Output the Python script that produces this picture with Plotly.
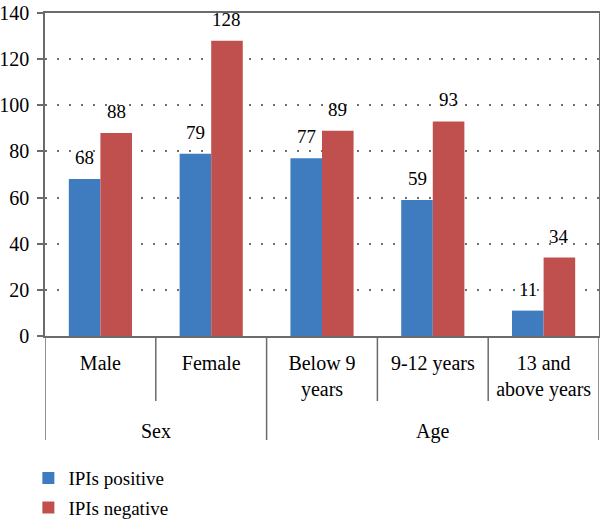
import plotly.graph_objects as go

categories = ["Male", "Female", "Below 9<br>years", "9-12 years", "13 and<br>above years"]
groups = ["Sex", "Age"]
group_sizes = [2, 3]
ipis_positive = [68, 79, 77, 59, 11]
ipis_negative = [88, 128, 89, 93, 34]
series_names = ["IPIs positive", "IPIs negative"]
y_ticks = [0, 20, 40, 60, 80, 100, 120, 140]

BLUE = "#3E7CBF"
RED = "#C0504D"
FONT = "Liberation Serif, serif"
AXIS = "#6b6b6b"
BARGAP = 0.43

xs = list(range(len(categories)))
fig = go.Figure()
for name, vals, col in [(series_names[0], ipis_positive, BLUE), (series_names[1], ipis_negative, RED)]:
    fig.add_trace(go.Bar(x=xs, y=vals, name=name, marker=dict(color=col, line=dict(width=0)),
                         legendgroup=name))

# data labels
bw = (1 - BARGAP) / 2
for k, vals in enumerate([ipis_positive, ipis_negative]):
    off = (k - 0.5) * bw
    for i, v in enumerate(vals):
        fig.add_annotation(x=i + off, y=v, text=str(v), showarrow=False, xref="x", yref="y",
                           yanchor="bottom", yshift=9, font=dict(family=FONT, size=19, color="black"))

# dividers
plot_h = 323.0
inner_end = -(401 - 336) / plot_h
outer_end = -(440 - 336) / plot_h
bounds_outer = [-0.5]
acc = -0.5
for s in group_sizes:
    acc += s
    bounds_outer.append(acc)
for i in range(len(categories) + 1):
    b = i - 0.5
    y1 = outer_end if b in bounds_outer else inner_end
    fig.add_shape(type="line", xref="x", yref="paper", x0=b, x1=b, y0=0, y1=y1,
                  line=dict(color=AXIS, width=1.5))

# group labels
start = 0
for g, s in zip(groups, group_sizes):
    center = start + (s - 1) / 2
    fig.add_annotation(x=center, y=-(431 - 336) / plot_h, xref="x", yref="paper", text=g,
                       showarrow=False, yanchor="middle",
                       font=dict(family=FONT, size=20, color="black"))
    start += s

fig.update_layout(
    width=600, height=525,
    margin=dict(l=45, r=1, t=13, b=189, autoexpand=False),
    paper_bgcolor="white", plot_bgcolor="white",
    barmode="group", bargap=BARGAP, bargroupgap=0,
    font=dict(family=FONT, size=20, color="black"),
    showlegend=True,
    legend=dict(x=-0.03, xanchor="left", y=-0.381, yanchor="top", orientation="v",
                font=dict(family=FONT, size=19, color="black"), tracegroupgap=2,
                bgcolor="rgba(0,0,0,0)"),
)
fig.update_xaxes(
    tickmode="array", tickvals=xs, ticktext=categories, ticks="",
    showline=True, linecolor=AXIS, linewidth=1.5, mirror=True,
    showgrid=False, zeroline=False, range=[-0.5, len(categories) - 0.5],
    ticklabelstandoff=8, tickfont=dict(family=FONT, size=20, color="black"),
)
fig.update_yaxes(
    range=[0, 140], tickmode="array", tickvals=y_ticks,
    ticks="outside", ticklen=6, tickcolor=AXIS, tickwidth=1.5,
    showline=True, linecolor=AXIS, linewidth=1.5, mirror=True,
    showgrid=True, gridcolor="#6f6f6f", griddash="2px,10px", gridwidth=1.5,
    zeroline=False, ticklabelstandoff=4,
    tickfont=dict(family=FONT, size=20, color="black"),
)

fig.write_html("out.html")
